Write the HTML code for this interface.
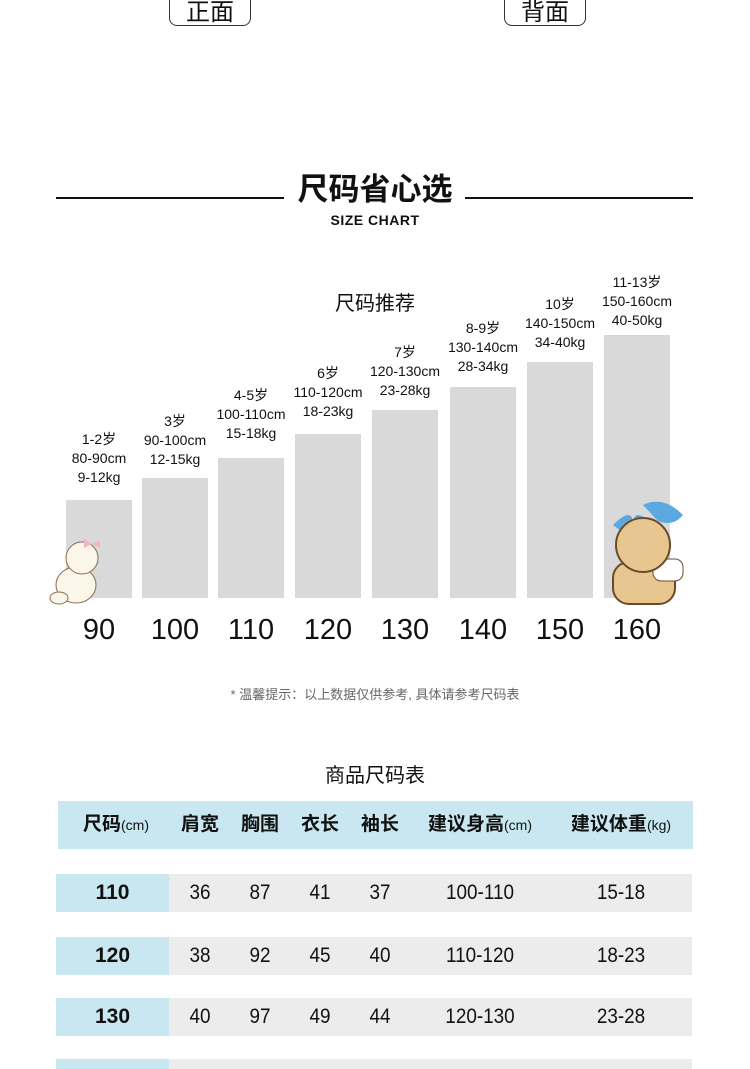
<!DOCTYPE html>
<html><head><meta charset="utf-8"><style>
*{margin:0;padding:0;box-sizing:border-box}
body{width:750px;height:1066px;background:#fff;position:relative;overflow:hidden;font-family:"Liberation Sans","Noto Sans CJK SC",sans-serif;color:#111}
.a{position:absolute}
.btn{border:1.5px solid #333;border-radius:0 0 8px 8px;border-top:none;font-size:24px;text-align:center;line-height:30px;height:28px;top:-2px}
.bar{position:absolute;background:#d9d9d9;width:66px;bottom:468px}
.lab{position:absolute;width:120px;text-align:center;font-size:14px;line-height:19px;color:#111}
.num{position:absolute;width:90px;text-align:center;font-size:29px;top:612px;line-height:36px;color:#111}
.row{position:absolute;left:56px;width:637px;height:38px;font-size:21px;font-weight:bold;line-height:38px}
.row span{position:absolute;text-align:center}
.n{font-weight:normal;transform:scaleX(0.9)}
</style></head><body>
<div class="a btn" style="left:169px;width:82px">正面</div>
<div class="a btn" style="left:504px;width:82px">背面</div>

<div class="a" style="left:56px;top:197px;width:228px;height:2px;background:#111"></div>
<div class="a" style="left:465px;top:197px;width:228px;height:2px;background:#111"></div>
<div class="a" style="left:285px;top:170px;width:180px;text-align:center;font-size:31px;font-weight:bold;line-height:40px">尺码省心选</div>
<div class="a" style="left:285px;top:212px;width:180px;text-align:center;font-size:14px;font-weight:bold;letter-spacing:0.5px">SIZE CHART</div>

<div class="a" style="left:300px;top:287px;width:150px;text-align:center;font-size:20px">尺码推荐</div>

<div class="bar" style="left:66px;top:500px"></div>
<div class="bar" style="left:142px;top:478px"></div>
<div class="bar" style="left:218px;top:458px"></div>
<div class="bar" style="left:295px;top:434px"></div>
<div class="bar" style="left:372px;top:410px"></div>
<div class="bar" style="left:450px;top:387px"></div>
<div class="bar" style="left:527px;top:362px"></div>
<div class="bar" style="left:604px;top:335px"></div>

<div class="lab" style="left:39px;top:430px">1-2岁<br>80-90cm<br>9-12kg</div>
<div class="lab" style="left:115px;top:412px">3岁<br>90-100cm<br>12-15kg</div>
<div class="lab" style="left:191px;top:386px">4-5岁<br>100-110cm<br>15-18kg</div>
<div class="lab" style="left:268px;top:364px">6岁<br>110-120cm<br>18-23kg</div>
<div class="lab" style="left:345px;top:343px">7岁<br>120-130cm<br>23-28kg</div>
<div class="lab" style="left:423px;top:319px">8-9岁<br>130-140cm<br>28-34kg</div>
<div class="lab" style="left:500px;top:295px">10岁<br>140-150cm<br>34-40kg</div>
<div class="lab" style="left:577px;top:273px">11-13岁<br>150-160cm<br>40-50kg</div>

<svg class="a" style="left:44px;top:530px" width="70" height="80" viewBox="0 0 70 80">
<ellipse cx="32" cy="55" rx="20" ry="18" fill="#fbf6ea" stroke="#8a6a4a"/>
<circle cx="38" cy="28" r="16" fill="#fbf6ea" stroke="#8a6a4a"/>
<ellipse cx="15" cy="68" rx="9" ry="6" fill="#fbf6ea" stroke="#8a6a4a"/>
<path d="M40 8 l8 6 l-8 4 z M56 10 l-8 4 l8 4z" fill="#f4b6c8"/>
</svg>
<svg class="a" style="left:603px;top:497px" width="86" height="112" viewBox="0 0 86 112">
<path d="M10 28 q20 -20 20 0 q0 -20 20 0 l-8 6 l-12 -6 l-12 6z" fill="#5aa9e0"/>
<rect x="10" y="65" width="62" height="42" rx="16" fill="#e8c690" stroke="#6b4a2a" stroke-width="2"/>
<rect x="50" y="62" width="30" height="22" rx="8" fill="#fff" stroke="#6b4a2a"/>
<circle cx="40" cy="48" r="27" fill="#e8c690" stroke="#6b4a2a" stroke-width="2"/>
<path d="M40 8 q20 -10 40 10 q-10 12 -25 6z" fill="#5aa9e0"/>
</svg>

<div class="num" style="left:54px">90</div>
<div class="num" style="left:130px">100</div>
<div class="num" style="left:206px">110</div>
<div class="num" style="left:283px">120</div>
<div class="num" style="left:360px">130</div>
<div class="num" style="left:438px">140</div>
<div class="num" style="left:515px">150</div>
<div class="num" style="left:592px">160</div>

<div class="a" style="left:150px;top:684px;width:450px;text-align:center;font-size:13px;color:#666">* 温馨提示：以上数据仅供参考, 具体请参考尺码表</div>

<div class="a" style="left:275px;top:759px;width:200px;text-align:center;font-size:20px">商品尺码表</div>

<div class="a" style="left:58px;top:801px;width:635px;height:48px;background:#c9e7f0"></div>
<div class="row" style="top:806px;font-size:19px">
<span style="left:10px;width:100px">尺码<small style="font-size:14px;font-weight:normal">(cm)</small></span>
<span style="left:116px;width:56px">肩宽</span>
<span style="left:176px;width:56px">胸围</span>
<span style="left:236px;width:56px">衣长</span>
<span style="left:296px;width:56px">袖长</span>
<span style="left:354px;width:140px">建议身高<small style="font-size:14px;font-weight:normal">(cm)</small></span>
<span style="left:500px;width:130px">建议体重<small style="font-size:14px;font-weight:normal">(kg)</small></span>
</div>

<div class="a" style="left:56px;top:874px;width:113px;height:38px;background:#c9e7f0"></div>
<div class="a" style="left:169px;top:874px;width:523px;height:38px;background:#ececec"></div>
<div class="a" style="left:56px;top:937px;width:113px;height:38px;background:#c9e7f0"></div>
<div class="a" style="left:169px;top:937px;width:523px;height:38px;background:#ececec"></div>
<div class="a" style="left:56px;top:998px;width:113px;height:38px;background:#c9e7f0"></div>
<div class="a" style="left:169px;top:998px;width:523px;height:38px;background:#ececec"></div>
<div class="a" style="left:56px;top:1059px;width:113px;height:10px;background:#c9e7f0"></div>
<div class="a" style="left:169px;top:1059px;width:523px;height:10px;background:#ececec"></div>

<div class="row" style="top:874px"><span style="left:0;width:113px">110</span><span class="n" style="left:116px;width:56px">36</span><span class="n" style="left:176px;width:56px">87</span><span class="n" style="left:236px;width:56px">41</span><span class="n" style="left:296px;width:56px">37</span><span class="n" style="left:354px;width:140px">100-110</span><span class="n" style="left:500px;width:130px">15-18</span></div>
<div class="row" style="top:937px"><span style="left:0;width:113px">120</span><span class="n" style="left:116px;width:56px">38</span><span class="n" style="left:176px;width:56px">92</span><span class="n" style="left:236px;width:56px">45</span><span class="n" style="left:296px;width:56px">40</span><span class="n" style="left:354px;width:140px">110-120</span><span class="n" style="left:500px;width:130px">18-23</span></div>
<div class="row" style="top:998px"><span style="left:0;width:113px">130</span><span class="n" style="left:116px;width:56px">40</span><span class="n" style="left:176px;width:56px">97</span><span class="n" style="left:236px;width:56px">49</span><span class="n" style="left:296px;width:56px">44</span><span class="n" style="left:354px;width:140px">120-130</span><span class="n" style="left:500px;width:130px">23-28</span></div>
</body></html>
